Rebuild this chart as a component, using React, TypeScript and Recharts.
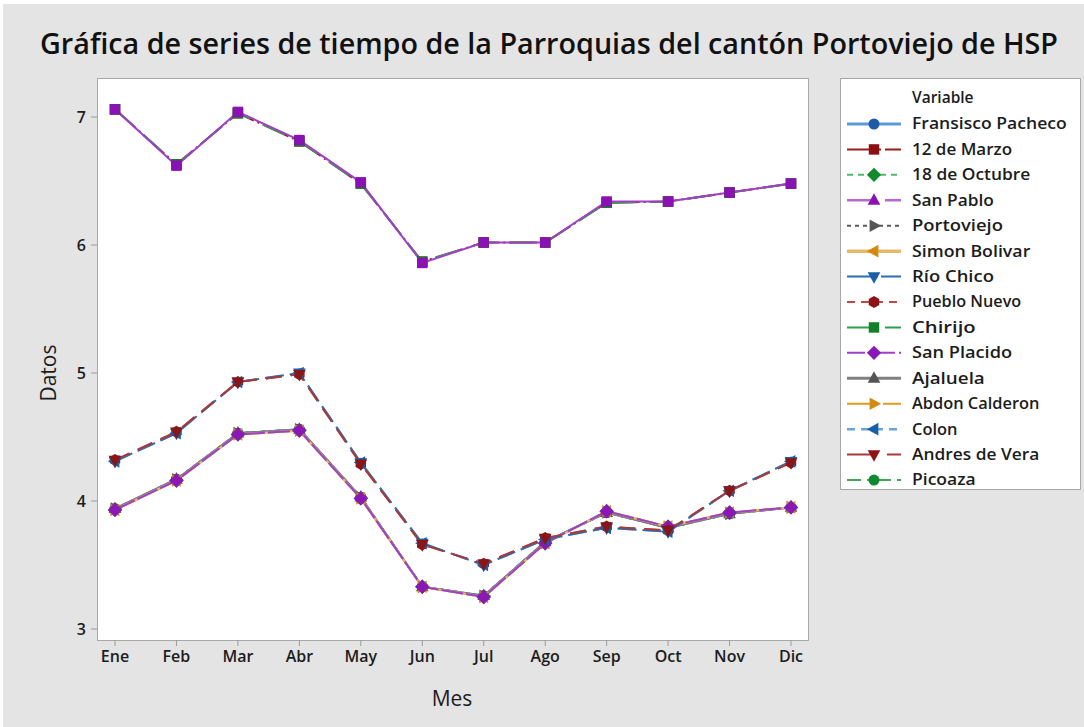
import { LineChart, Line, XAxis, YAxis } from 'recharts'

const months = ['Ene', 'Feb', 'Mar', 'Abr', 'May', 'Jun', 'Jul', 'Ago', 'Sep', 'Oct', 'Nov', 'Dic']

// three visible bundles of lines (many parroquias overlap exactly)
const upperGroup = [7.06, 6.62, 7.04, 6.82, 6.49, 5.86, 6.02, 6.02, 6.34, 6.34, 6.41, 6.48]
const upperGroupB = [7.06, 6.63, 7.03, 6.81, 6.48, 5.87, 6.02, 6.02, 6.33, 6.34, 6.41, 6.48]
const middleGroup = [4.32, 4.54, 4.93, 4.99, 4.29, 3.66, 3.51, 3.71, 3.8, 3.77, 4.08, 4.3]
const middleGroupB = [4.31, 4.53, 4.93, 5.0, 4.3, 3.67, 3.5, 3.7, 3.79, 3.76, 4.08, 4.31]
const lowerGroup = [3.93, 4.16, 4.52, 4.55, 4.02, 3.33, 3.25, 3.67, 3.92, 3.8, 3.91, 3.95]
const lowerGroupB = [3.94, 4.17, 4.53, 4.56, 4.03, 3.33, 3.26, 3.68, 3.91, 3.79, 3.9, 3.95]

const yTicks = [3, 4, 5, 6, 7]

type Shape = 'circle' | 'square' | 'diamond' | 'up' | 'down' | 'left' | 'right' | 'hexagon'

interface Serie {
  name: string
  values: number[]
  line: string
  mark: string
  width: number
  dash?: string
  shape: Shape
  plotShape?: Shape
  plotLine?: string
  plotDash?: string
}

const series: Serie[] = [
  { name: 'Fransisco Pacheco', values: lowerGroupB, line: '#5b9bd5', mark: '#1f5aa8', width: 3, shape: 'circle' },
  { name: '12 de Marzo', values: upperGroupB, line: '#9b1c1c', mark: '#8b1010', width: 2, dash: '28 4 2 4', shape: 'square' },
  { name: '18 de Octubre', values: lowerGroup, line: '#4cbb6c', mark: '#108a2a', width: 2, dash: '6 5', shape: 'diamond' },
  { name: 'San Pablo', values: upperGroup, line: '#b966d6', mark: '#8a12b5', width: 2.5, dash: '26 12', shape: 'up', plotShape: 'square', plotLine: '#a040c8', plotDash: '0' },
  { name: 'Portoviejo', values: lowerGroupB, line: '#5a5a5a', mark: '#555555', width: 2, dash: '4 4', shape: 'right' },
  { name: 'Simon Bolivar', values: lowerGroup, line: '#e8b868', mark: '#d48a10', width: 3.5, shape: 'left' },
  { name: 'Río Chico', values: middleGroupB, line: '#2a6db8', mark: '#1a5ea8', width: 2, dash: '26 3 2 3', shape: 'down', plotDash: '19 6' },
  { name: 'Pueblo Nuevo', values: middleGroup, line: '#c24848', mark: '#8b1414', width: 2, dash: '8 6', shape: 'hexagon', plotDash: '16 9' },
  { name: 'Chirijo', values: upperGroupB, line: '#2aa24a', mark: '#10802a', width: 2, dash: '24 14', shape: 'square' },
  { name: 'San Placido', values: lowerGroup, line: '#a040c8', mark: '#8a18b8', width: 2, dash: '18 4 4 4', shape: 'diamond', plotDash: '22 3' },
  { name: 'Ajaluela', values: lowerGroupB, line: '#808080', mark: '#555555', width: 3, shape: 'up' },
  { name: 'Abdon Calderon', values: lowerGroup, line: '#e29a1a', mark: '#d48a10', width: 2, dash: '26 4 2 4', shape: 'right' },
  { name: 'Colon', values: middleGroupB, line: '#6aa4dc', mark: '#1a5ea8', width: 2.5, dash: '8 6', shape: 'left', plotDash: '16 9' },
  { name: 'Andres de Vera', values: middleGroup, line: '#a83a3a', mark: '#8b1414', width: 2, dash: '26 14', shape: 'down', plotDash: '16 9' },
  { name: 'Picoaza', values: lowerGroupB, line: '#3aaa5a', mark: '#108a30', width: 2, dash: '14 6 4 6', shape: 'circle' },
]

// draw order: lower bundle, middle bundle, upper bundle; visible one last in each
const drawOrder = [
  'Picoaza', 'Fransisco Pacheco', '18 de Octubre', 'Portoviejo', 'Ajaluela', 'Abdon Calderon', 'Simon Bolivar', 'San Placido',
  'Pueblo Nuevo', 'Colon', 'Río Chico', 'Andres de Vera',
  '12 de Marzo', 'Chirijo', 'San Pablo',
]

const rows = months.map((mes, i) => {
  const row: Record<string, string | number> = { mes }
  series.forEach((s) => {
    row[s.name] = s.values[i]
  })
  return row
})

const FONT = '"Open Sans", "Noto Sans", sans-serif'
const INK = '#1c1c1c'

function Marker({ cx, cy, shape, fill, r }: { cx: number; cy: number; shape: Shape; fill: string; r: number }) {
  if (cx == null || cy == null) return null
  const poly = (pts: number[][]) => (
    <polygon points={pts.map((p) => `${cx + p[0] * r},${cy + p[1] * r}`).join(' ')} fill={fill} />
  )
  switch (shape) {
    case 'circle':
      return <circle cx={cx} cy={cy} r={r} fill={fill} />
    case 'square':
      return <rect x={cx - r * 0.95} y={cy - r * 0.95} width={r * 1.9} height={r * 1.9} fill={fill} />
    case 'diamond':
      return poly([[0, -1.3], [1.3, 0], [0, 1.3], [-1.3, 0]])
    case 'up':
      return poly([[0, -1.3], [1.15, 0.8], [-1.15, 0.8]])
    case 'down':
      return poly([[0, 1.3], [1.15, -0.8], [-1.15, -0.8]])
    case 'right':
      return poly([[1.3, 0], [-0.8, -1.15], [-0.8, 1.15]])
    case 'left':
      return poly([[-1.3, 0], [0.8, -1.15], [0.8, 1.15]])
    case 'hexagon':
      return poly([[0, -1.1], [0.95, -0.55], [0.95, 0.55], [0, 1.1], [-0.95, 0.55], [-0.95, -0.55]])
  }
  return null
}

function LegendBox() {
  return (
    <div
      style={{
        position: 'absolute',
        left: 840,
        top: 78,
        width: 241,
        height: 412,
        background: '#fff',
        border: '1px solid #a8a8a8',
        boxSizing: 'border-box',
      }}
    >
      <svg width={239} height={410} style={{ position: 'absolute', left: 0, top: 0 }}>
        <text x={71} y={19} dy="0.35em" fontFamily={FONT} fontSize={15.5} fontWeight={600} fill={INK}>
          Variable
        </text>
        {series.map((s, i) => {
          const y = 45 + i * 25.43
          return (
            <g key={s.name}>
              <line x1={6} x2={60} y1={y} y2={y} stroke={s.line} strokeWidth={s.width} strokeDasharray={s.dash} />
              <Marker cx={33} cy={y} shape={s.shape} fill={s.mark} r={5.5} />
              <text
                x={71}
                y={y}
                dy="0.35em"
                fontFamily={FONT}
                fontSize={15.5}
                fontWeight={600}
                fill={INK}
                textLength={s.name.length * 9.1}
                lengthAdjust="spacingAndGlyphs"
              >
                {s.name}
              </text>
            </g>
          )
        })}
      </svg>
    </div>
  )
}

export default function App() {
  const ordered = drawOrder.map((n) => series.find((s) => s.name === n) as Serie)
  return (
    <div style={{ position: 'absolute', left: 0, top: 0, width: 1084, height: 727, background: '#fff' }}>
      <div style={{ position: 'absolute', left: 3, top: 4, width: 1081, height: 723, background: '#e4e4e4' }} />
      <div
        style={{
          position: 'absolute',
          left: 97,
          top: 78,
          width: 712,
          height: 563,
          background: '#fff',
          border: '1px solid #a8a8a8',
          boxSizing: 'border-box',
        }}
      />
      <svg width={1084} height={727} style={{ position: 'absolute', left: 0, top: 0 }}>
        <text
          x={549}
          y={47}
          textAnchor="middle"
          dominantBaseline="middle"
          fontFamily={FONT}
          fontSize={28}
          fontWeight={600}
          fill="#111"
          textLength={1018}
          lengthAdjust="spacingAndGlyphs"
        >
          Gráfica de series de tiempo de la Parroquias del cantón Portoviejo de HSP
        </text>
        <text x={452} y={700} textAnchor="middle" dominantBaseline="middle" fontFamily={FONT} fontSize={21} fontWeight={500} fill={INK}>
          Mes
        </text>
        <text
          x={50}
          y={373}
          textAnchor="middle"
          dominantBaseline="middle"
          fontFamily={FONT}
          fontSize={21}
          fontWeight={500}
          fill={INK}
          transform="rotate(-90 50 373)"
        >
          Datos
        </text>
      </svg>
      <LineChart
        width={1084}
        height={727}
        data={rows}
        margin={{ top: 78, right: 276, bottom: 0, left: 0 }}
        style={{ position: 'absolute', left: 0, top: 0 }}
      >
        <XAxis
          dataKey="mes"
          height={87}
          padding={{ left: 18, right: 17 }}
          axisLine={false}
          tickLine={{ stroke: '#999' }}
          tickSize={6}
          tickMargin={5}
          tick={{ fontSize: 16, fontWeight: 600, fill: INK, fontFamily: FONT }}
          interval={0}
        />
        <YAxis
          type="number"
          width={97}
          domain={[2.914, 7.305]}
          ticks={yTicks}
          allowDataOverflow
          axisLine={false}
          tickLine={{ stroke: '#999' }}
          tickSize={6}
          tickMargin={5}
          tick={{ fontSize: 16, fontWeight: 600, fill: INK, fontFamily: FONT }}
        />
        {ordered.map((s) => (
          <Line
            key={s.name}
            dataKey={s.name}
            type="linear"
            stroke={s.plotLine ?? s.line}
            strokeWidth={2}
            strokeDasharray={s.plotDash ?? s.dash}
            isAnimationActive={false}
            activeDot={false}
            dot={(p: any) => (
              <Marker
                key={`${s.name}-${p.index}`}
                cx={p.cx}
                cy={p.cy}
                shape={s.plotShape ?? s.shape}
                fill={s.mark}
                r={5.5}
              />
            )}
          />
        ))}
      </LineChart>
      <LegendBox />
    </div>
  )
}
